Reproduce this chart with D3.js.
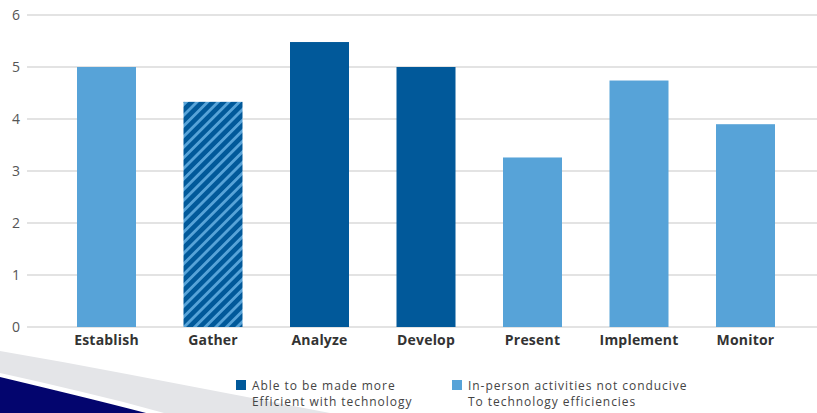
<!DOCTYPE html>
<html>
<head>
<meta charset="utf-8">
<script src="https://cdn.jsdelivr.net/npm/d3@7"></script>
<style>
  html, body { margin: 0; padding: 0; background: #fff; }
  svg { display: block; }
</style>
</head>
<body>
<svg id="chart" width="817" height="413"></svg>
<script>
// Process stages and their scores
const categories = ["Establish", "Gather", "Analyze", "Develop", "Present", "Implement", "Monitor"];
const values = [5.0, 4.33, 5.48, 5.0, 3.26, 4.74, 3.9];
// Fill style per stage: "tech" = can be made more efficient, "inperson" = in-person, "mixed" = both
const kinds = ["inperson", "mixed", "tech", "tech", "inperson", "inperson", "inperson"];
const yTicks = [0, 1, 2, 3, 4, 5, 6];
const legendItems = [
  { kind: "tech", lines: ["Able to be made more", "Efficient with technology"] },
  { kind: "inperson", lines: ["In-person activities not conducive", "To technology efficiencies"] }
];

const DARK = "#01599a";
const LIGHT = "#57a3d8";
const svg = d3.select("#chart");

// Diagonal hatch for the mixed bar
const defs = svg.append("defs");
const pat = defs.append("pattern")
  .attr("id", "hatch")
  .attr("patternUnits", "userSpaceOnUse")
  .attr("width", 7.5).attr("height", 7.5)
  .attr("patternTransform", "rotate(45)");
pat.append("rect").attr("width", 7.5).attr("height", 7.5).attr("fill", DARK);
pat.append("rect").attr("width", 2.8).attr("height", 7.5).attr("fill", LIGHT);

const fillFor = k => k === "tech" ? DARK : k === "inperson" ? LIGHT : "url(#hatch)";

// Decorative corner swoosh
svg.append("path")
  .attr("d", "M0,351 C110,370 220,392 330,413 L164,413 C110,398 55,385 0,373 Z")
  .attr("fill", "#e4e5e8");
svg.append("path")
  .attr("d", "M0,377 C50,389 100,401 146,413 L0,413 Z")
  .attr("fill", "#03056e");

const x = d3.scaleBand()
  .domain(categories)
  .range([53.25, 798.75])
  .paddingInner(0.446)
  .paddingOuter(0.223);

const y = d3.scaleLinear().domain([0, 6]).range([327, 15]);

// Gridlines
svg.append("g")
  .selectAll("line")
  .data(yTicks)
  .join("line")
  .attr("x1", 27).attr("x2", 817)
  .attr("y1", d => y(d)).attr("y2", d => y(d))
  .attr("stroke", "#dadada")
  .attr("stroke-width", 1.6);

// Y axis labels
const yAxis = d3.axisLeft(y).tickValues(yTicks).tickSize(0).tickPadding(0).tickFormat(d3.format("d"));
const gy = svg.append("g").attr("transform", "translate(20,0)").call(yAxis);
gy.select(".domain").remove();
gy.selectAll("text")
  .attr("font-family", "'Open Sans', sans-serif")
  .attr("font-size", 14)
  .attr("fill", "#555");

// Bars
svg.append("g")
  .selectAll("rect")
  .data(categories)
  .join("rect")
  .attr("x", d => x(d))
  .attr("width", x.bandwidth())
  .attr("y", (d, i) => y(values[i]))
  .attr("height", (d, i) => y(0) - y(values[i]))
  .attr("fill", (d, i) => fillFor(kinds[i]));

// Category axis
const xAxis = d3.axisBottom(x).tickSize(0).tickPadding(0);
const gx = svg.append("g").attr("transform", "translate(0,335)").call(xAxis);
gx.select(".domain").remove();
gx.selectAll("text")
  .attr("font-family", "'Open Sans', sans-serif")
  .attr("font-weight", 700)
  .attr("font-size", 14)
  .attr("letter-spacing", 0.2)
  .attr("fill", "#333")
  .attr("dy", "0.71em");

// Legend
const legend = svg.append("g");
const legendX = [236, 452];
legendItems.forEach((item, i) => {
  const g = legend.append("g").attr("transform", `translate(${legendX[i]},380)`);
  g.append("rect").attr("width", 10).attr("height", 10).attr("fill", fillFor(item.kind));
  item.lines.forEach((line, j) => {
    g.append("text")
      .attr("x", 16)
      .attr("y", 10 + j * 16)
      .attr("font-family", "'Open Sans', sans-serif")
      .attr("font-size", 12)
      .attr("letter-spacing", 0.95)
      .attr("fill", "#444")
      .text(line);
  });
});
</script>
</body>
</html>
